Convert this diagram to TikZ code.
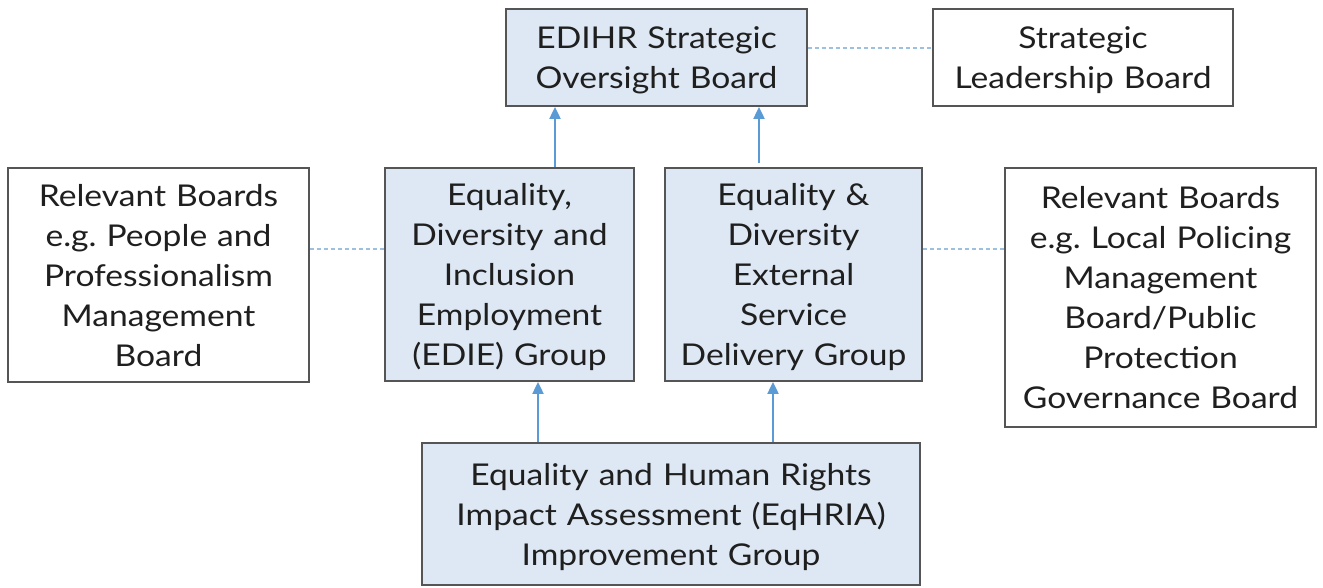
\documentclass[tikz,border=0pt]{standalone}
\usepackage{fontspec}
\setmainfont[FakeStretch=1.12]{Lato}
\usetikzlibrary{arrows.meta}
\definecolor{boxfill}{HTML}{DDE8F4}
\definecolor{boxline}{HTML}{555555}
\definecolor{arrowc}{HTML}{5B9BD5}
\definecolor{dashc}{HTML}{9DBFE0}
\tikzset{
  box/.style={draw=boxline, line width=1.8pt, align=center, inner sep=0pt,
    minimum width=#1, text width=#1-4pt,
    font=\fontsize{30}{40}\selectfont, text=black!88,
    execute at begin node={\rule{0pt}{32pt}},
    execute at end node={\rule[-10pt]{0pt}{10pt}}},
  bluebox/.style={box=#1, fill=boxfill},
  whitebox/.style={box=#1, fill=white},
  uparrow/.style={draw=arrowc, line width=2pt, -{Triangle[length=12pt,width=11pt]}},
  dashline/.style={draw=dashc, line width=1.5pt, dash pattern=on 4pt off 3pt},
}
\begin{document}
\begin{tikzpicture}[x=1pt,y=-1pt]
\useasboundingbox[fill=white] (0,0) rectangle (1323,587);
\node[bluebox=301pt, minimum height=97pt] (edihr) at (656.5,57.5) {EDIHR Strategic\\Oversight Board};
\node[whitebox=300pt, minimum height=97pt] (slb) at (1083,57.5) {Strategic\\Leadership Board};
\node[whitebox=301pt, minimum height=214pt] (relL) at (158.5,275) {Relevant Boards\\e.g.\ People and\\Professionalism\\Management\\Board};
\node[bluebox=249pt, minimum height=213pt] (edie) at (509.5,274.5) {Equality,\\Diversity and\\Inclusion\\Employment\\(EDIE) Group};
\node[bluebox=257pt, minimum height=213pt] (eds) at (793.5,274.5) {Equality \& \\Diversity\\External\\Service\\Delivery Group};
\node[whitebox=311pt, minimum height=259pt] (relR) at (1160.5,297.5) {Relevant Boards\\e.g.\ Local Policing\\Management\\Board/Public\\Protection\\Governance Board};
\node[bluebox=498pt, minimum height=142pt] (eqhria) at (671,514) {Equality and Human Rights\\Impact Assessment (EqHRIA)\\Improvement Group};
\draw[dashline] (edihr.east |- 0,48) -- (slb.west |- 0,48);
\draw[dashline] (relL.east |- 0,249) -- (edie.west |- 0,249);
\draw[dashline] (eds.east |- 0,249) -- (relR.west |- 0,249);
\draw[uparrow] (edie.north -| 555,0) -- (edihr.south -| 555,0);
\draw[uparrow] ([yshift=4pt]eds.north -| 759,0) -- (edihr.south -| 759,0);
\draw[uparrow] (eqhria.north -| 538,0) -- (edie.south -| 538,0);
\draw[uparrow] (eqhria.north -| 773,0) -- (eds.south -| 773,0);
\end{tikzpicture}
\end{document}
